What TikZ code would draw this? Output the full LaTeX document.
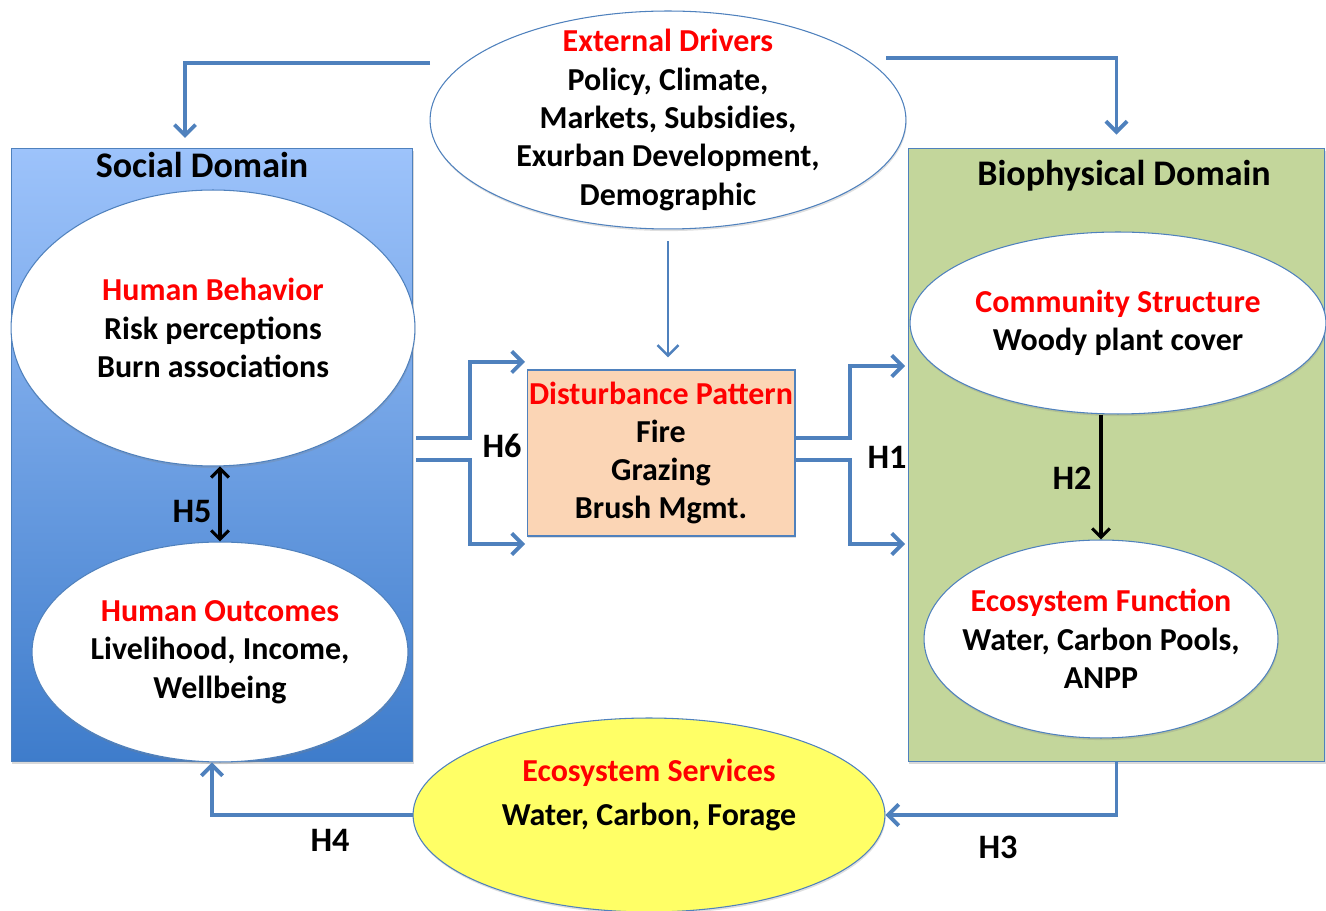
\documentclass[tikz,border=0pt]{standalone}
\usepackage{fontspec}
\setmainfont{Carlito}
\usetikzlibrary{shapes.geometric}
\usetikzlibrary{positioning}
\usetikzlibrary{calc}
\usetikzlibrary{arrows.meta}
\usetikzlibrary{shadows}
\definecolor{linkblue}{HTML}{4F81BD}
\definecolor{socialtop}{HTML}{9DC3FB}
\definecolor{socialbot}{HTML}{3E7CCB}
\definecolor{biogreen}{HTML}{C3D69B}
\definecolor{distpeach}{HTML}{FBD5B5}
\definecolor{servyellow}{HTML}{FFFF66}
\definecolor{headred}{HTML}{FF0000}
\newcommand{\head}[1]{\textcolor{headred}{#1}}
\tikzset{domainbox/.style={draw=linkblue, line width=0.6pt, inner sep=0pt,
  drop shadow={opacity=0.3, shadow xshift=0.6pt, shadow yshift=-1.4pt}}}
\tikzset{cell/.style={ellipse, draw=linkblue, line width=0.6pt, fill=white,
  inner xsep=-10pt, inner ysep=-14pt, align=center, font=\bfseries\fontsize{18.2}{21.8}\selectfont,
  drop shadow={opacity=0.25, shadow xshift=0.4pt, shadow yshift=-1.2pt}}}
\tikzset{flow/.style={draw=linkblue, line width=2.2pt,
  -{Straight Barb[length=6pt,width=12pt]}}}
\tikzset{hyp/.style={draw=black, line width=1.8pt}}
\tikzset{hyptag/.style={font=\bfseries\fontsize{19.5}{22}\selectfont}}
\tikzset{domaintitle/.style={font=\bfseries\fontsize{20.5}{24}\selectfont}}

\begin{document}
\begin{tikzpicture}[x=0.02cm, y=-0.02cm]
    \useasboundingbox (0,0) rectangle (1326,911);
    % domains
    \node [domainbox, rectangle, top color=socialtop, bottom color=socialbot,
      minimum width=8.04cm, minimum height=12.28cm] (social) at (212,455) {};
    \node [domainbox, rectangle, fill=biogreen,
      minimum width=8.34cm, minimum height=12.28cm] (bio) at (1116.5,455) {};
    \node [domaintitle] (socialtitle) at (202,165) {Social Domain};
    \node [domaintitle] (biotitle) at (1124,176) {Biophysical Domain};
    % cells
    \node [cell, minimum width=9.52cm, minimum height=4.36cm] (ext) at (668,120)
      {\head{External Drivers}\\ Policy, Climate,\\ Markets, Subsidies,\\ Exurban Development,\\ Demographic};
    \node [cell, minimum width=8.08cm, minimum height=5.52cm] (hbeh) at (213,328)
      {\head{Human Behavior}\\ Risk perceptions\\ Burn associations};
    \node [cell, minimum width=7.52cm, minimum height=4.4cm] (hout) at (220,652)
      {\head{Human Outcomes}\\ Livelihood, Income,\\ Wellbeing};
    \node [cell, minimum width=8.32cm, minimum height=3.64cm] (ecomm) at (1118,323)
      {\head{Community Structure}\\ Woody plant cover};
    \node [cell, minimum width=7.08cm, minimum height=3.96cm] (efun) at (1101,639)
      {\head{Ecosystem Function}\\ Water, Carbon Pools,\\ ANPP};
    \node [cell, fill=servyellow, minimum width=9.44cm, minimum height=3.88cm] (eserv) at (649,815) {};
    \node [align=center, font=\bfseries\fontsize{18.2}{21.8}\selectfont] (eservtext) at (649,795)
      {\head{Ecosystem Services}\\[3.4pt] Water, Carbon, Forage};
    \node [cell, rectangle, inner sep=0pt, fill=distpeach, minimum width=5.36cm, minimum height=3.32cm] (dist) at (661,453)
      {\head{Disturbance Pattern}\\ Fire\\ Grazing\\ Brush Mgmt.};
    % free ends
    \coordinate (extl) at (430,63);
    \coordinate (extr) at (886,58);
    \coordinate (socin) at (185,138);
    \coordinate (sa) at (416,438);
    \coordinate (sb) at (416,460);
    \coordinate (dinT) at (525,362);
    \coordinate (dinB) at (525,544);
    \coordinate (da) at (795,438);
    \coordinate (db) at (795,460);
    \coordinate (binT) at (905,366);
    \coordinate (binB) at (905,544);
    % connectors
    \draw [flow] (extl) -| (socin);
    \draw [flow] (extr) -| ([yshift=0.26cm]bio.north);
    \draw [flow, line width=1.5pt] ([yshift=-0.24cm]ext.south) -- ([yshift=0.24cm]ext.south |- dist.north);
    \draw [flow] (sa) -- (470,438) |- (dinT);
    \draw [flow] (sb) -- (470,460) |- (dinB);
    \draw [flow] (da) -- (850,438) |- (binT);
    \draw [flow] (db) -- (850,460) |- (binB);
    \draw [flow] (bio.south) |- (eserv.east);
    \draw [flow] (eserv.west) -| (social.south);
    \draw [hyp, {Straight Barb[length=5pt,width=10pt]}-{Straight Barb[length=5pt,width=10pt]}]
      (hout.north |- hbeh.south) -- (hout.north);
    \draw [hyp, -{Straight Barb[length=5pt,width=10pt]}] (efun.north |- ecomm.south) -- (efun.north);
    % hypothesis labels
    \node [hyptag] (h1) at (887,457) {H1};
    \node [hyptag] (h2) at (1072,478) {H2};
    \node [hyptag] (h3) at (998,847) {H3};
    \node [hyptag] (h4) at (330,840) {H4};
    \node [hyptag] (h5) at (192,512) {H5};
    \node [hyptag] (h6) at (502,446) {H6};
\end{tikzpicture}
\end{document}
